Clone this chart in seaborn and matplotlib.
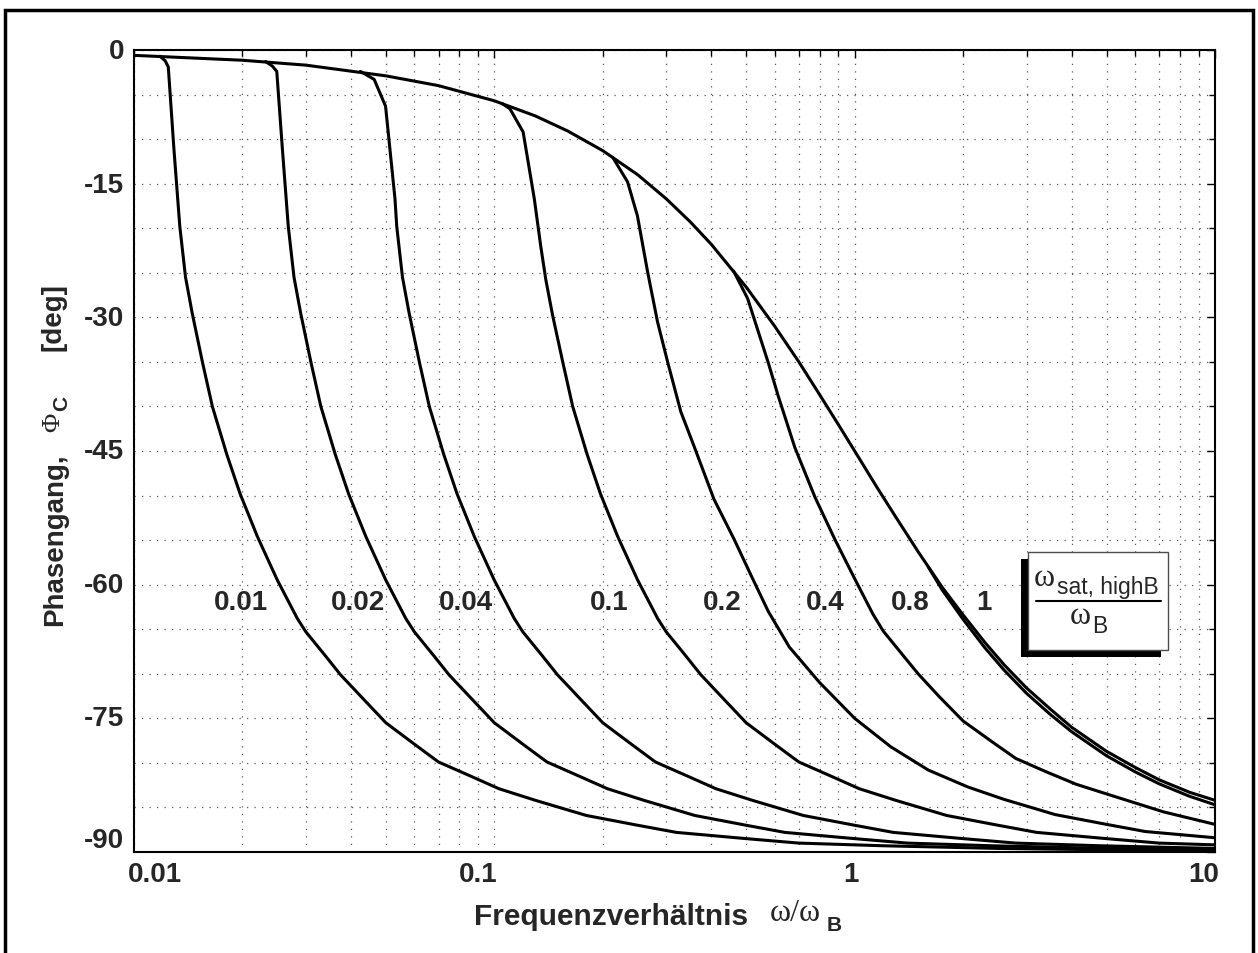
import matplotlib
matplotlib.use('Agg')
import matplotlib.pyplot as plt
import matplotlib.patches as patches
from matplotlib.lines import Line2D
from matplotlib.ticker import FixedLocator, NullFormatter
import seaborn as sns

# envelope (no saturation)
w_main = [0.01, 0.02, 0.03, 0.05, 0.07, 0.1, 0.13, 0.16, 0.2, 0.25, 0.3, 0.35, 0.4, 0.5, 0.6, 0.7,
          0.8, 0.9, 1.0, 1.15, 1.3, 1.5, 1.75, 2.0, 2.3, 2.6, 3.0, 3.5, 4.0, 5.0, 6.0, 7.0, 8.5, 10.0]
phi_main = [-0.6, -1.15, -1.7, -2.9, -4.0, -5.7, -7.4, -9.1, -11.3, -14.0, -16.7, -19.3, -21.8, -26.6,
            -31.0, -35.0, -38.7, -42.0, -45.0, -49.0, -52.4, -56.3, -60.3, -63.4, -66.5, -69.0, -71.6,
            -74.0, -76.0, -78.7, -80.5, -81.9, -83.3, -84.2]

w_001 = [0.0118, 0.0122, 0.01245, 0.0129, 0.0134, 0.0139, 0.0145, 0.0155, 0.0165, 0.0181, 0.0197,
         0.022, 0.025, 0.0284, 0.030, 0.034, 0.0374, 0.043, 0.050, 0.060, 0.070, 0.085, 0.103, 0.13,
         0.18, 0.25, 0.32, 0.50, 0.70, 1.2, 2.5, 5.0, 10.0]
phi_001 = [-0.7, -1.2, -1.9, -11.0, -19.8, -25.5, -29.5, -35.1, -40.0, -45.4, -49.8,
           -54.6, -59.5, -63.8, -65.3, -68.0, -70.1, -72.7, -75.5, -77.9, -79.9, -81.4, -82.9, -84.2,
           -85.9, -87.0, -87.8, -88.5, -89.0, -89.3, -89.6, -89.75, -89.85]

w_002 = [0.0232, 0.0242, 0.0249, 0.0258, 0.0268, 0.0278, 0.029, 0.031, 0.033, 0.0362, 0.0394,
         0.044, 0.050, 0.0568, 0.060, 0.068, 0.0748, 0.086, 0.100, 0.120, 0.140, 0.170, 0.206, 0.26,
         0.36, 0.50, 0.64, 1.0, 1.4, 2.4, 5.0, 10.0]
phi_002 = [-1.3, -1.8, -2.4, -11.0, -19.8, -25.5, -29.5, -35.1, -40.0, -45.4, -49.8,
           -54.6, -59.5, -63.8, -65.3, -68.0, -70.1, -72.7, -75.5, -77.9, -79.9, -81.4, -82.9, -84.2,
           -85.9, -87.0, -87.8, -88.5, -89.0, -89.3, -89.6, -89.75]

w_004 = [0.0425, 0.0464, 0.0499, 0.0530, 0.0536, 0.0556, 0.058, 0.062, 0.066, 0.0724, 0.0788,
         0.088, 0.100, 0.1136, 0.120, 0.136, 0.1496, 0.172, 0.200, 0.240, 0.280, 0.340, 0.412, 0.52,
         0.72, 1.0, 1.28, 2.0, 2.8, 4.8, 10.0]
phi_004 = [-2.4, -3.3, -6.3, -16.7, -19.8, -25.5, -29.5, -35.1, -40.0, -45.4, -49.8,
           -54.6, -59.5, -63.8, -65.3, -68.0, -70.1, -72.7, -75.5, -77.9, -79.9, -81.4, -82.9, -84.2,
           -85.9, -87.0, -87.8, -88.5, -89.0, -89.3, -89.6]

w_01 = [0.105, 0.1105, 0.1202, 0.1291, 0.1345, 0.139, 0.145, 0.155, 0.165, 0.181, 0.197, 0.22,
        0.25, 0.284, 0.30, 0.34, 0.374, 0.43, 0.50, 0.60, 0.70, 0.85, 1.03, 1.3, 1.8, 2.5, 3.2,
        5.0, 7.0, 10.0]
phi_01 = [-6.0, -6.6, -9.2, -16.7, -22.0, -25.8, -29.7, -35.1, -40.0, -45.4, -49.8, -54.6,
          -59.5, -63.8, -65.3, -68.0, -70.1, -72.7, -75.5, -77.9, -79.9, -81.4, -82.9, -84.2, -85.9,
          -87.0, -87.8, -88.5, -89.0, -89.2]

w_02 = [0.2135, 0.2343, 0.2495, 0.2663, 0.2837, 0.3026, 0.3293, 0.3578, 0.4068, 0.4628, 0.5164,
        0.5758, 0.6586, 0.80, 1.0, 1.26, 1.6, 2.06, 2.6, 3.6, 5.0, 6.4, 10.0]
phi_02 = [-12.1, -14.8, -18.6, -24.9, -30.5, -35.0, -40.6, -44.4, -50.4, -54.9, -59.0,
          -63.0, -67.0, -71.0, -75.0, -78.2, -80.8, -82.7, -84.1, -85.8, -86.9, -87.7, -88.4]

w_04 = [0.4613, 0.5047, 0.5758, 0.6143, 0.6822, 0.7763, 0.8832, 1.005, 1.1236, 1.2, 1.36, 1.5,
        1.72, 2.0, 2.4, 2.8, 3.4, 4.12, 5.2, 7.2, 10.0]
phi_04 = [-24.8, -27.9, -35.1, -38.9, -44.6, -50.2, -55.0, -59.5, -63.3, -65.2, -67.9, -70.0,
          -72.6, -75.3, -77.6, -79.5, -81.0, -82.4, -83.7, -85.5, -86.9]

w_08 = [1.6, 1.75, 2.0, 2.3, 2.6, 3.0, 3.5, 4.0, 5.0, 6.0, 7.0, 8.5, 10.0]
phi_08 = [-58.0, -60.6, -63.9, -67.1, -69.6, -72.2, -74.6, -76.5, -79.2, -81.0, -82.35, -83.75, -84.7]

curve_labels = ['0.01', '0.02', '0.04', '0.1', '0.2', '0.4', '0.8', '1']
label_w = [0.0198, 0.0419, 0.0832, 0.2083, 0.4293, 0.8305, 1.43, 2.28]

x_ticks = [0.01, 0.1, 1, 10]
x_ticklabels = ['0.01', '0.1', '1', '10']
y_ticks = [-90, -75, -60, -45, -30, -15, 0]
y_ticklabels = ['-90', '-75', '-60', '-45', '-30', '-15', '0']

W, H = 1258, 954

sns.set_style('white')
plt.rcParams['font.family'] = ['Liberation Sans', 'DejaVu Sans']
plt.rcParams['font.weight'] = 'bold'
plt.rcParams['axes.unicode_minus'] = False


def fx(x):
    return x / W


def fy(y):
    return 1 - y / H


fig = plt.figure(figsize=(W / 100, H / 100), dpi=100)
ax = fig.add_axes([fx(134), fy(853), (1215 - 134) / W, (853 - 51) / H])

series = [(w_main, phi_main), (w_001, phi_001), (w_002, phi_002), (w_004, phi_004),
          (w_01, phi_01), (w_02, phi_02), (w_04, phi_04), (w_08, phi_08)]
for xs, ys in series:
    sns.lineplot(x=xs, y=ys, ax=ax, color='black', linewidth=2.2,
                 estimator=None, sort=False, legend=False)

ax.set_xscale('log')
ax.set_xlim(0.01, 10)
ax.set_ylim(-90, 0)
ax.xaxis.set_major_locator(FixedLocator(x_ticks))
ax.xaxis.set_major_formatter(NullFormatter())
minor_x = [m * d for d in (0.01, 0.1, 1) for m in range(2, 10)]
ax.xaxis.set_minor_locator(FixedLocator(minor_x))
ax.xaxis.set_minor_formatter(NullFormatter())
ax.yaxis.set_major_locator(FixedLocator(y_ticks))
ax.yaxis.set_major_formatter(NullFormatter())
ax.yaxis.set_minor_locator(FixedLocator(list(range(-85, 0, 5))))

ax.grid(which='both', color='0.35', linestyle=(0, (1, 5)), linewidth=0.9)
ax.tick_params(which='both', direction='in', top=True, right=True, color='black')
ax.tick_params(which='major', length=6, width=1)
ax.tick_params(which='minor', length=4, width=1)
for s in ax.spines.values():
    s.set_color('black')
    s.set_linewidth(1.5)
ax.set_xlabel('')
ax.set_ylabel('')

# tick labels placed like in the original (end labels pulled inwards)
x_label_px = [155, 478, 851, 1204]
for lab, px in zip(x_ticklabels, x_label_px):
    fig.text(fx(px), fy(875), lab, fontsize=20, fontweight='bold', ha='center', va='center')
y_label_px = [841, 719, 586, 452, 319, 186, 52]
for lab, py in zip(y_ticklabels, y_label_px):
    fig.text(fx(124), fy(py), lab, fontsize=20, fontweight='bold', ha='right', va='center')

for lab, lw in zip(curve_labels, label_w):
    ax.text(lw, -62, lab, ha='center', va='center', fontsize=20, fontweight='bold')

# x axis label
fig.text(fx(474), fy(925), 'Frequenzverhältnis', fontsize=21.5, fontweight='bold', va='baseline')
fig.text(fx(770), fy(921), 'ω/ω', fontsize=23, family='Liberation Serif', fontweight='normal', va='baseline')
fig.text(fx(827), fy(931), 'B', fontsize=15, fontweight='bold', va='baseline')

# y axis label (rotated pieces)
fig.text(fx(55), fy(540), 'Phasengang,', fontsize=20, fontweight='bold', rotation=90, ha='center', va='center')
fig.text(fx(53), fy(422), 'Φ', fontsize=19, family='Liberation Serif', fontweight='normal',
         rotation=90, ha='center', va='center')
fig.text(fx(62), fy(403), 'C', fontsize=15, fontweight='bold', rotation=90, ha='center', va='center')
fig.text(fx(53), fy(317), '[deg]', fontsize=20, fontweight='bold', rotation=90, ha='center', va='center')

# legend-like box with shadow
fig.add_artist(patches.Rectangle((fx(1020.7), fy(658.3)), (1161 - 1020.7) / W, (658.3 - 560) / H,
                                 transform=fig.transFigure, facecolor='black', edgecolor='none', zorder=5))
fig.add_artist(patches.Rectangle((fx(1027.7), fy(650.7)), (1168.3 - 1027.7) / W, (650.7 - 553.3) / H,
                                 transform=fig.transFigure, facecolor='white', edgecolor='0.3',
                                 linewidth=1, zorder=6))
fig.text(fx(1044), fy(579), 'ω', fontsize=23, family='Liberation Serif', fontweight='normal',
         ha='center', va='center', zorder=7)
fig.text(fx(1057), fy(588), 'sat, highB', fontsize=16.5, fontweight='normal', ha='left', va='center', zorder=7)
fig.add_artist(Line2D([fx(1036), fx(1161)], [fy(602), fy(602)], transform=fig.transFigure,
                      color='black', linewidth=1.5, zorder=7))
fig.text(fx(1080), fy(616), 'ω', fontsize=23, family='Liberation Serif', fontweight='normal',
         ha='center', va='center', zorder=7)
fig.text(fx(1100), fy(627), 'B', fontsize=16.5, fontweight='normal', ha='center', va='center', zorder=7)

# outer frame
fig.add_artist(patches.Rectangle((fx(5), -0.02), (1253 - 5) / W, fy(11) + 0.02,
                                 transform=fig.transFigure, facecolor='none', edgecolor='black',
                                 linewidth=2.5, zorder=10))

fig.savefig('out.png', dpi=100)
